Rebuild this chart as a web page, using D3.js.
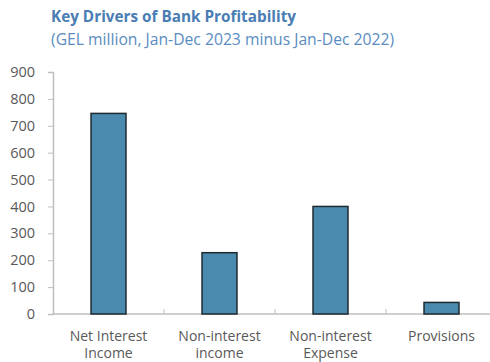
<!DOCTYPE html>
<html>
<head>
<meta charset="utf-8">
<script src="https://cdn.jsdelivr.net/npm/d3@7"></script>
<style>
  body { margin: 0; background: #fff; }
  svg text { font-family: "Open Sans", "Noto Sans", sans-serif; }
</style>
</head>
<body>
<svg id="chart" width="490" height="362"></svg>
<script>
// Data
const categories = [["Net Interest", "Income"], ["Non-interest", "income"], ["Non-interest", "Expense"], ["Provisions"]];
const values = [746, 228, 400, 43];
const yTicks = [0, 100, 200, 300, 400, 500, 600, 700, 800, 900];

const svg = d3.select("#chart"),
      margin = { top: 72, right: -7, bottom: 48, left: 53 },
      width = +svg.attr("width"),
      height = +svg.attr("height");

const x = d3.scaleBand()
  .domain(d3.range(categories.length))
  .range([margin.left, width - margin.right])
  .paddingInner(0.685)
  .paddingOuter(0.3425);

const y = d3.scaleLinear()
  .domain([0, 900])
  .range([height - margin.bottom, margin.top]);

// Title
svg.append("text")
  .attr("x", 51)
  .attr("y", 22)
  .style("font-size", "15.3px")
  .style("font-weight", "bold")
  .style("fill", "#4a7db3")
  .text("Key Drivers of Bank Profitability");

svg.append("text")
  .attr("x", 51)
  .attr("y", 45)
  .style("font-size", "15.7px")
  .style("fill", "#5a8cc2")
  .text("(GEL million, Jan-Dec 2023 minus Jan-Dec 2022)");

// Y axis
const yAxis = svg.append("g")
  .attr("transform", `translate(${margin.left},0)`)
  .call(d3.axisLeft(y).tickValues(yTicks).tickSize(5).tickPadding(13));
yAxis.select(".domain").attr("stroke", "#bfbfbf").attr("stroke-width", 1.5);
yAxis.selectAll(".tick line").attr("stroke", "#bfbfbf");
yAxis.selectAll("text")
  .style("font-size", "14.5px")
  .style("fill", "#595959");

// X axis
const step = x.step();
const xAxis = svg.append("g")
  .attr("transform", `translate(0,${y(0)})`);
xAxis.append("line")
  .attr("x1", margin.left)
  .attr("x2", width)
  .attr("stroke", "#bfbfbf")
  .attr("stroke-width", 1.5);
xAxis.selectAll(".tick")
  .data(d3.range(1, categories.length))
  .enter()
  .append("line")
  .attr("x1", i => margin.left + i * step)
  .attr("x2", i => margin.left + i * step)
  .attr("y1", 0)
  .attr("y2", -5)
  .attr("stroke", "#bfbfbf");

const labels = xAxis.selectAll(".lab")
  .data(categories)
  .enter()
  .append("text")
  .attr("text-anchor", "middle")
  .attr("x", (d, i) => x(i) + x.bandwidth() / 2)
  .attr("y", 26.5)
  .style("font-size", "14px")
  .style("fill", "#595959");
labels.selectAll("tspan")
  .data(d => d)
  .enter()
  .append("tspan")
  .attr("x", function () { return d3.select(this.parentNode).attr("x"); })
  .attr("dy", (d, i) => i === 0 ? 0 : 17.5)
  .text(d => d);

// Bars
svg.selectAll(".bar")
  .data(values)
  .enter()
  .append("rect")
  .attr("class", "bar")
  .attr("x", (d, i) => x(i))
  .attr("y", d => y(d))
  .attr("width", x.bandwidth())
  .attr("height", d => y(0) - y(d))
  .attr("fill", "#4a8aae")
  .attr("stroke", "#1f2a30")
  .attr("stroke-width", 1.5);
</script>
</body>
</html>
